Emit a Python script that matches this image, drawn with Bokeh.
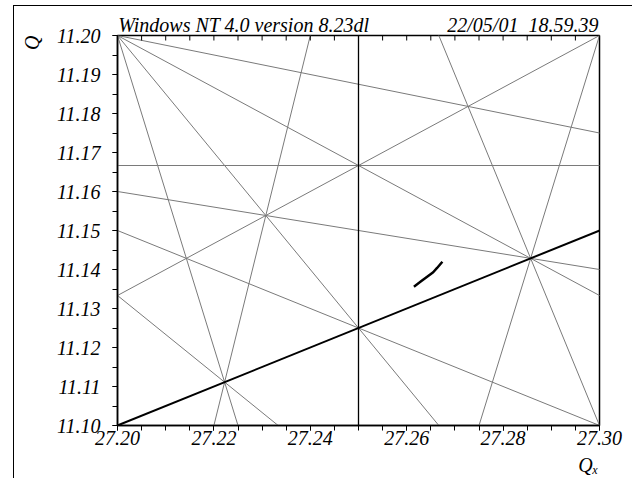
import numpy as np
from bokeh.plotting import figure
from bokeh.layouts import column
from bokeh.models import Range1d, LinearAxis, PrintfTickFormatter, FixedTicker
from bokeh.embed import file_html
from bokeh.resources import INLINE

# ---- data -------------------------------------------------------------
# thin grey resonance lines  m*Qx + n*Qy = p
grey_m = [1, 2, 3, 4, 5, 0, 1, 2, 3, 4, 2, 3]
grey_n = [4, 3, 2, 1, -1, 6, 5, -3, 1, -1, 4, 3]
grey_p = [72, 88, 104, 120, 125, 67, 83, 21, 93, 98, 99, 115]
# black resonance line (vertical)
black_m = [4]
black_n = [0]
black_p = [109]
# bold resonance line
bold_m = [1]
bold_n = [-2]
bold_p = [5]
# tune footprint
qx_track = [27.2615, 27.2627, 27.2641, 27.2655, 27.2663, 27.2674]
qy_track = [11.1356, 11.1367, 11.1380, 11.1393, 11.1404, 11.1420]
# axes
qx_min, qx_max = 27.20, 27.30
qy_min, qy_max = 11.10, 11.20
x_ticks = [27.20, 27.22, 27.24, 27.26, 27.28, 27.30]
y_ticks = [11.10, 11.11, 11.12, 11.13, 11.14, 11.15, 11.16, 11.17, 11.18, 11.19, 11.20]
title_text = "Windows NT 4.0 version 8.23dl"
date_text = "22/05/01\u200218.59.39"
x_name = "Q\u2093"
y_name = "Q"
# centres of the header texts (Qx) and of the axis names
title_at = 27.2262
date_at = 27.2841
x_name_at = 27.2977


def segments(ms, ns, ps):
    xs, ys = [], []
    for m, n, p in zip(ms, ns, ps):
        if n != 0:
            qx = np.array([qx_min - 0.2, qx_max + 0.2])
            xs.append(list(qx))
            ys.append(list((p - m * qx) / n))
        else:
            xs.append([p / m, p / m])
            ys.append([qy_min - 0.2, qy_max + 0.2])
    return xs, ys


FONT = "Liberation Serif"

p = figure(
    x_range=Range1d(qx_min, qx_max), y_range=Range1d(qy_min, qy_max),
    frame_width=490, frame_height=390,
    min_border_left=111, min_border_top=29, min_border_right=25, min_border_bottom=50,
    output_backend="svg", toolbar_location=None,
    background_fill_color="white", border_fill_color=None,
)
p.margin = (0, 0, 0, -8)
p.xgrid.visible = False
p.ygrid.visible = False
p.outline_line_color = "black"
p.outline_line_width = 1.5

x_minor = list(np.round(np.arange(qx_min, qx_max + 1e-9, 0.005), 3))
y_minor = list(np.round(np.arange(qy_min, qy_max + 1e-9, 0.005), 3))


def style_labels(ax, size="20px"):
    ax.major_label_text_font = FONT
    ax.major_label_text_font_style = "italic"
    ax.major_label_text_font_size = size
    ax.major_label_text_color = "black"


for ax, tk, mn in ((p.xaxis[0], x_ticks, x_minor), (p.yaxis[0], y_ticks, y_minor)):
    ax.ticker = FixedTicker(ticks=tk, minor_ticks=mn)
    ax.formatter = PrintfTickFormatter(format="%.2f")
    style_labels(ax)
    ax.major_tick_out = 5
    ax.major_tick_in = 0
    ax.minor_tick_out = 5
    ax.minor_tick_in = 0
    ax.axis_line_width = 1.5
    ax.major_tick_line_width = 1
    ax.minor_tick_line_width = 1
p.xaxis[0].major_label_standoff = 0
p.yaxis[0].major_label_standoff = 12


def text_axis(ticks, texts, standoff, orientation="horizontal", size="20px"):
    ax = LinearAxis(ticker=FixedTicker(ticks=ticks, minor_ticks=[]),
                    major_label_overrides=dict(zip(ticks, texts)),
                    axis_line_color=None, major_tick_line_color=None,
                    minor_tick_line_color=None, major_tick_in=0, major_tick_out=0,
                    major_label_standoff=standoff,
                    major_label_orientation=orientation)
    style_labels(ax, size)
    return ax


p.add_layout(text_axis([title_at, date_at], [title_text, date_text], 0), "above")
p.add_layout(text_axis([qy_max], [y_name], 22, orientation=np.pi / 2), "left")
p.add_layout(text_axis([x_name_at], [x_name], 6), "below")

gx, gy = segments(grey_m, grey_n, grey_p)
p.multi_line(gx, gy, line_color="#7a7a7a", line_width=1)
bx, by = segments(black_m, black_n, black_p)
p.multi_line(bx, by, line_color="black", line_width=1.3)
tx, ty = segments(bold_m, bold_n, bold_p)
p.multi_line(tx, ty, line_color="black", line_width=2)
p.line(qx_track, qy_track, line_color="black", line_width=2.5)

# inward ticks along the top edge (half of each dash is clipped by the frame)
p.scatter(x=x_minor, y=[qy_max] * len(x_minor), marker="dash", size=10,
          angle=np.pi / 2, line_color="black", line_width=1)

# page frame: rules along the top and the left of the window
inner = column(p, styles={"border-top": "1px solid #000000",
                          "border-left": "1px solid #000000"})
layout = column(inner, margin=(5, 0, 0, 13))
open("out.html", "w").write(file_html(layout, INLINE))
